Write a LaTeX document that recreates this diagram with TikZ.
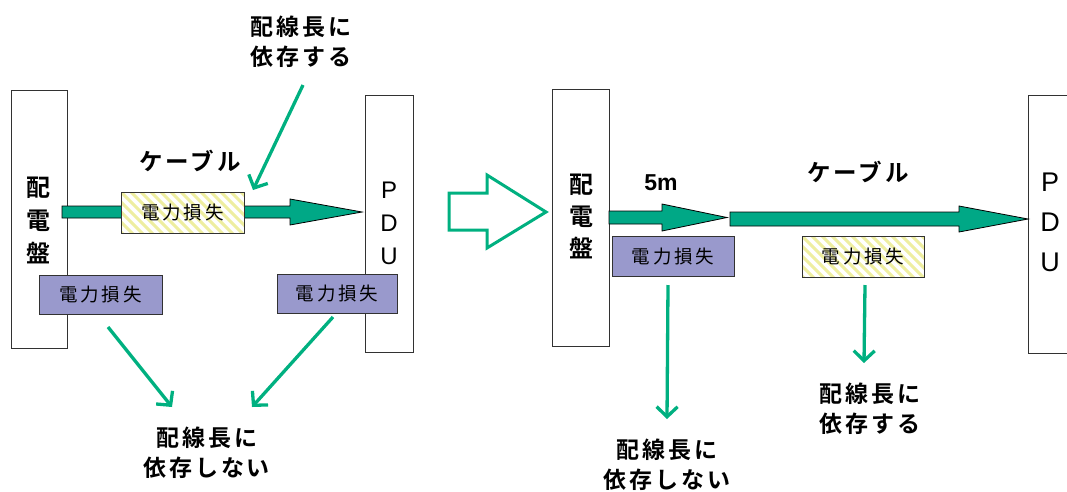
\documentclass[tikz,border=0pt]{standalone}
\usepackage{fontspec}
\setmainfont{Liberation Sans}
\newfontfamily\jp{Noto Sans CJK JP}[LetterSpace=12, BoldFont={Noto Sans CJK JP Bold}]
\newfontfamily\jpr{Noto Sans CJK JP}[LetterSpace=15]
\usetikzlibrary{arrows.meta}
\definecolor{arrowfill}{RGB}{0,168,134}
\definecolor{thingreen}{RGB}{0,176,128}
\definecolor{lossfill}{RGB}{153,153,204}
\definecolor{stripe}{RGB}{238,238,160}
\definecolor{boxline}{RGB}{50,50,50}
\tikzset{
  panel/.style={draw=boxline, line width=1pt, fill=white, inner sep=0pt},
  lossbox/.style={draw=boxline, line width=1pt, fill=lossfill, minimum width=#1, minimum height=39pt, inner sep=0pt, font=\jpr\fontsize{18.5}{20}\selectfont},
  hatchbox/.style={draw=boxline, line width=1pt, fill=white, minimum width=#1, minimum height=41pt, inner sep=0pt, font=\jpr\fontsize{18.5}{20}\selectfont,
    path picture={\foreach \k in {-50,-40,...,140} {\draw[stripe, line width=3pt] ([xshift=\k pt]path picture bounding box.north west) -- ++(50,50);}}},
  lbl/.style={align=center, font=\jp\bfseries\fontsize{23}{30}\selectfont, inner sep=0pt},
  cable/.style={font=\jp\bfseries\fontsize{23.5}{26}\selectfont, inner sep=0pt},
  sidetxt/.style={align=center, inner sep=0pt},
  bigarrow/.style={fill=arrowfill, draw=black, line width=0.8pt, line join=miter},
  thin/.style={draw=thingreen, line width=3.3pt, -{Straight Barb[length=10pt,width=21pt]}},
}
\begin{document}
\begin{tikzpicture}[x=1pt,y=-1pt]
\useasboundingbox (0,0) rectangle (1067,491);

% ---------- left diagram ----------
\node[panel, minimum width=56pt, minimum height=258pt] (hb1) at (39,219) {};
\node[panel, minimum width=48pt, minimum height=257pt] (pdu1) at (389,223.5) {};
\node[sidetxt, font=\jp\bfseries\fontsize{24}{33}\selectfont] (hbt1) at (39,220) {配\\電\\盤};
\node[sidetxt, font=\fontsize{24}{33}\selectfont] (pdut1) at (389,223.5) {P\\D\\U};

% thick cable arrow
\draw[bigarrow] (62,206) -- (290,206) -- (290,199) -- (362,212) -- (290,225) -- (290,218) -- (62,218) -- cycle;
\node[hatchbox=123pt] (h1) at (182.5,212.5) {電力損失};
\node[cable] (c1) at (190,161) {ケーブル};

\node[lossbox=123pt] (l1) at (100.5,294.5) {電力損失};
\node[lossbox=120pt] (l2) at (337,293.5) {電力損失};

\node[lbl] (top1) at (301,42) {配線長に\\依存する};
\node[lbl] (bot1) at (207,453) {配線長に\\依存しない};

\coordinate (a1s) at (303,85);  \coordinate (a1e) at (253,190);
\coordinate (a2s) at (108,327); \coordinate (a2e) at (172,407);
\coordinate (a3s) at (333,317); \coordinate (a3e) at (252,407);
\draw[thin] (a1s) -- (a1e);
\draw[thin] (a2s) -- (a2e);
\draw[thin] (a3s) -- (a3e);

% ---------- hollow arrow ----------
\draw[draw=thingreen, line width=3pt, fill=white, line join=miter]
  (449,193) -- (487,193) -- (487,175) -- (546,212) -- (487,248) -- (487,230) -- (449,230) -- cycle;

% ---------- right diagram ----------
\node[panel, minimum width=57pt, minimum height=257pt] (hb2) at (580.5,217.5) {};
\node[panel, minimum width=52pt, minimum height=258pt] (pdu2) at (1054,224) {};
\node[sidetxt, font=\jp\bfseries\fontsize{24}{32}\selectfont] (hbt2) at (581,216.5) {配\\電\\盤};
\node[sidetxt, font=\fontsize{27}{40}\selectfont] (pdut2) at (1050,222) {P\\D\\U};

\draw[bigarrow] (609,211) -- (662,211) -- (662,204) -- (727,217.5) -- (662,231) -- (662,224) -- (609,224) -- cycle;
\draw[bigarrow] (730,212) -- (959,212) -- (959,206) -- (1028,219) -- (959,232) -- (959,226) -- (730,226) -- cycle;

\node[font=\bfseries\fontsize{23}{24}\selectfont, inner sep=0pt] (m5) at (661,183) {5m};
\node[cable] (c2) at (858,172) {ケーブル};

\node[lossbox=122pt, minimum height=40pt] (l3) at (673,256) {電力損失};
\node[hatchbox=122pt] (h2) at (863,256.5) {電力損失};

\node[lbl] (bot2) at (667,465) {配線長に\\依存しない};
\node[lbl] (bot3) at (870,409) {配線長に\\依存する};

\coordinate (a4s) at (668,285); \coordinate (a4e) at (667,419);
\coordinate (a5s) at (865,285); \coordinate (a5e) at (864,363);
\draw[thin] (a4s) -- (a4e);
\draw[thin] (a5s) -- (a5e);
\end{tikzpicture}
\end{document}
